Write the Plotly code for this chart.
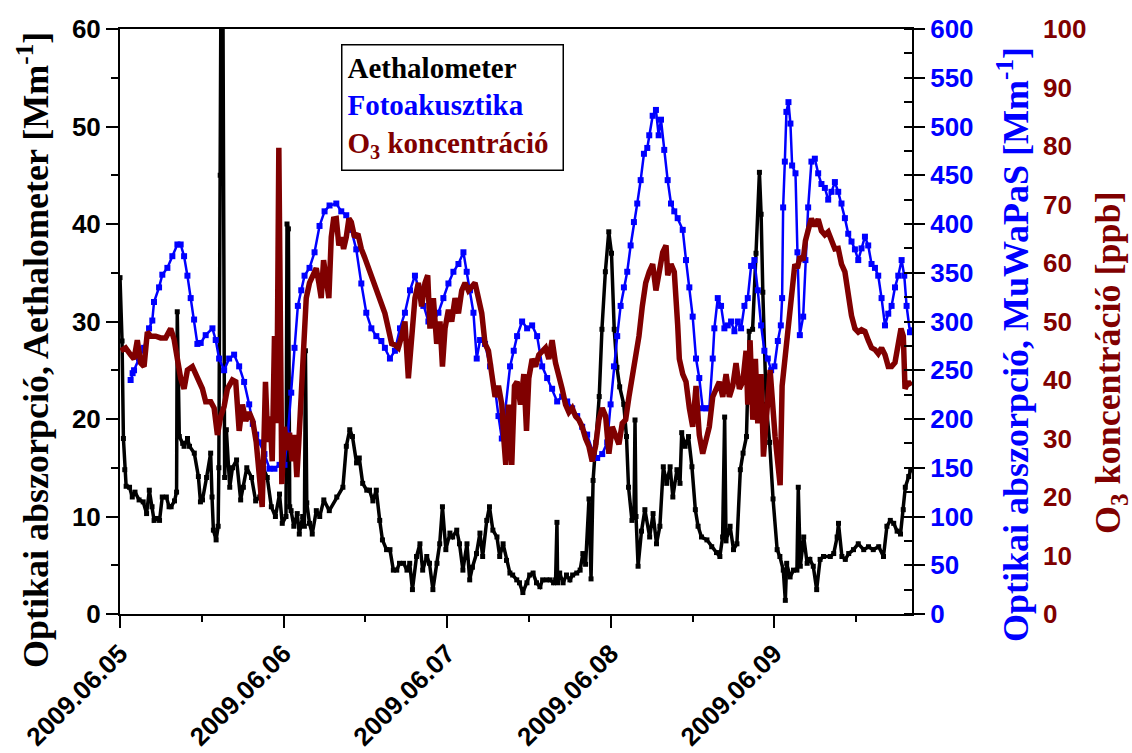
import pandas as pd
import plotly.graph_objects as go

START = "2009-06-05 00:00"
END = "2009-06-09 20:11"
DAY_LABELS = ["2009.06.05", "2009.06.06", "2009.06.07", "2009.06.08", "2009.06.09"]

# (hours since 2009-06-05 00:00, absorption Mm-1) -- Aethalometer
AETH = [
    (0.0, 34.5), (0.3, 28), (0.5, 18), (0.7, 14.8), (0.9, 13.1), (1.4, 13.0), (1.8, 12.0), (2.2, 12.5),
    (2.8, 11.7), (3.4, 11.5), (3.9, 10.3), (4.3, 12.7), (4.7, 11.0), (5.0, 9.6), (5.5, 9.8), (5.8, 9.6),
    (6.2, 12.0), (6.8, 12.0), (7.2, 11.0), (7.5, 11.0), (8.0, 11.6), (8.3, 12.5), (8.4, 31.0), (8.6, 25),
    (8.7, 18.2), (9.2, 17.5), (9.4, 17.2), (9.9, 18), (10.2, 17.2), (10.9, 16.5), (11.5, 14.1), (11.8, 11.5),
    (12.1, 11.7), (12.7, 14), (13.3, 16.5), (13.5, 12), (13.7, 8.6), (14.1, 7.6), (14.4, 9), (14.5, 15),
    (14.7, 45), (14.8, 63), (15.1, 63), (15.25, 25), (15.35, 14), (15.6, 18.9), (16.1, 13), (16.5, 15),
    (17.1, 15.8), (17.7, 11.7), (18.1, 13), (18.6, 15), (19.3, 14), (19.9, 11.6), (20.5, 12), (21.0, 15),
    (21.6, 14), (22.2, 11), (22.8, 10), (23.4, 12.3), (23.8, 9.3), (24.35, 10), (24.5, 40), (24.7, 39.5),
    (24.9, 11), (25.1, 10.6), (25.5, 9), (26.0, 10.3), (26.3, 8.2), (26.8, 10), (27.05, 9), (27.2, 27),
    (27.4, 11.4), (27.8, 9.3), (28.2, 8.2), (28.8, 10.6), (29.3, 10), (29.9, 11.7), (30.7, 10.6), (31.8, 12),
    (32.7, 13), (33.2, 17.2), (33.7, 18.9), (34.1, 18.2), (34.7, 15.5), (35.1, 16), (35.6, 13.4), (36.2, 12.7),
    (36.6, 12.7), (37.1, 11.6), (37.6, 12.7), (38.1, 9.6), (38.5, 7.6), (39.1, 6.6), (39.6, 6.6), (40.1, 4.5),
    (40.6, 4.5), (41.0, 5.2), (41.6, 5.2), (42.1, 4.5), (42.5, 5.2), (42.9, 2.5), (43.5, 5.9), (44.0, 7.2),
    (44.4, 4.5), (45.0, 5.9), (45.4, 5.2), (45.9, 2.5), (46.5, 5.2), (46.9, 7.2), (47.3, 11), (47.8, 6.6),
    (48.4, 8.3), (48.8, 7.9), (49.4, 8.6), (49.8, 7.2), (50.3, 4.5), (50.9, 7.2), (51.3, 3.5), (51.7, 4.8),
    (52.3, 6.2), (52.8, 8.3), (53.2, 5.9), (53.8, 9.6), (54.2, 11), (54.7, 8.6), (55.3, 7.9), (55.7, 5.9),
    (56.2, 7.2), (56.7, 5.5), (57.2, 4.2), (57.6, 4.0), (58.2, 3.5), (58.6, 3.2), (59.1, 2.2), (59.7, 3.2),
    (60.1, 4.0), (60.6, 4.2), (61.1, 3.2), (61.6, 2.8), (62.0, 3.5), (62.6, 3.5), (63.1, 3.5), (63.6, 3.2),
    (63.9, 3.5), (64.1, 9.4), (64.2, 3.2), (64.5, 4.2), (65.0, 3.2), (65.5, 4.0), (66.0, 3.5), (66.4, 4.0),
    (67.0, 4.2), (67.5, 4.5), (67.9, 6.2), (68.3, 5.1), (68.8, 11.8), (69.1, 3.6), (69.4, 13.7), (69.8, 17.6),
    (70.3, 22.3), (70.7, 29.2), (71.2, 35.1), (71.7, 39.2), (72.1, 37), (72.5, 29.2), (72.9, 25.3), (73.3, 23.3),
    (73.9, 21.5), (74.3, 18.2), (74.6, 13), (75.1, 9.6), (75.4, 10), (75.55, 19.9), (75.7, 10), (76.0, 4.9),
    (76.5, 8.5), (77.0, 10.7), (77.7, 7.9), (78.2, 10.3), (78.7, 7.2), (79.2, 9), (79.7, 15.1), (80.2, 13.4),
    (80.7, 15.1), (81.1, 12), (81.7, 14.8), (82.15, 13.4), (82.4, 18.6), (82.9, 17.2), (83.4, 18.2), (83.9, 15.1),
    (84.4, 10.7), (84.8, 9), (85.3, 7.9), (86.1, 7.6), (86.8, 6.9), (87.5, 6.3), (88.0, 5.9), (88.4, 7.9),
    (88.7, 20.2), (88.9, 7.5), (89.5, 9), (90.0, 6.6), (90.5, 7.2), (91.0, 14.8), (91.4, 16.5), (91.9, 18.2),
    (92.3, 29), (92.8, 29.2), (93.3, 37), (93.8, 45.3), (94.05, 41), (94.3, 33), (94.8, 21.5), (95.3, 17.6),
    (95.8, 11.8), (96.4, 6.6), (96.8, 5.9), (97.3, 4.5), (97.6, 1.4), (97.8, 5.2), (98.3, 3.8), (98.8, 4.5),
    (99.3, 4.5), (99.5, 13), (99.8, 4.9), (100.3, 7.9), (100.8, 5.2), (101.2, 5.6), (101.7, 4.9), (102.2, 2.5),
    (102.7, 5.6), (103.2, 5.9), (104.2, 5.9), (104.7, 6.2), (105.2, 7.9), (105.4, 9.3), (105.9, 5.9), (106.4, 5.6),
    (106.9, 6.2), (107.6, 6.6), (108.3, 7.2), (109.1, 6.6), (109.8, 6.9), (110.5, 6.6), (111.3, 6.9), (112.0, 5.9),
    (112.5, 9), (113.0, 9.6), (113.5, 9.3), (114.0, 8.5), (114.5, 8.2), (114.9, 10.7), (115.2, 13), (115.7, 14.1),
    (116.0, 14.8),
]

# (hours, absorption Mm-1) -- MuWaPaS photoacoustic
FOTO = [
    (1.56, 240), (1.85, 247), (2.06, 250), (2.79, 262), (3.53, 273), (4.26, 293), (4.74, 301), (4.99, 320),
    (5.73, 335), (6.21, 348), (6.95, 355), (7.68, 367), (8.42, 379), (8.90, 379), (9.40, 367), (9.89, 347),
    (10.37, 324), (10.87, 302), (11.35, 277), (11.84, 278), (12.57, 286), (13.56, 293), (14.04, 281), (14.54, 262),
    (15.28, 250), (16.01, 262), (16.74, 266), (17.48, 254), (18.21, 238), (18.95, 215), (19.48, 195), (19.98, 184),
    (20.46, 176), (21.19, 164), (21.93, 149), (22.66, 149), (23.40, 153), (24.13, 153), (24.62, 184), (25.12, 227),
    (25.60, 273), (26.09, 316), (26.59, 332), (27.07, 347), (27.80, 355), (28.54, 371), (29.27, 398), (30.01, 413),
    (30.74, 419), (31.73, 421), (32.46, 413), (33.19, 409), (33.93, 394), (34.66, 374), (35.40, 339), (36.13, 309),
    (36.87, 293), (37.60, 285), (38.34, 280), (38.86, 273), (39.60, 262), (40.33, 270), (41.07, 293), (41.80, 309),
    (42.54, 332), (43.27, 347), (43.77, 335), (44.50, 316), (45.24, 300), (45.97, 300), (46.71, 309), (47.44, 324),
    (48.18, 339), (48.91, 351), (49.65, 359), (50.38, 371), (50.86, 351), (51.35, 332), (51.85, 309), (52.33, 262),
    (52.82, 281), (53.55, 277), (54.29, 254), (55.02, 231), (55.52, 203), (56.01, 180), (56.49, 207), (57.22, 254),
    (57.76, 270), (58.25, 285), (58.99, 300), (59.72, 293), (60.46, 296), (61.19, 285), (61.93, 254), (62.66, 242),
    (63.39, 231), (64.13, 218), (64.86, 223), (65.60, 218), (66.33, 211), (67.07, 203), (67.80, 192), (68.53, 184),
    (69.27, 168), (70.00, 160), (70.74, 164), (71.47, 176), (71.97, 215), (72.46, 254), (72.94, 285), (73.44, 316),
    (73.92, 335), (74.41, 351), (74.91, 378), (75.39, 402), (75.88, 421), (76.38, 445), (76.86, 472), (77.35, 478),
    (77.64, 491), (78.14, 511), (78.62, 517), (79.02, 491), (79.36, 507), (79.84, 476), (80.34, 445), (80.83, 421),
    (81.31, 413), (81.81, 406), (82.55, 394), (83.03, 363), (83.52, 335), (84.01, 305), (84.50, 262), (84.98, 242),
    (85.48, 211), (85.97, 211), (86.45, 211), (86.95, 262), (87.19, 293), (87.69, 324), (88.17, 316), (88.66, 293),
    (89.16, 296), (89.64, 300), (90.13, 290), (90.63, 300), (91.11, 293), (91.60, 316), (92.09, 324), (92.58, 357),
    (93.06, 363), (93.56, 332), (94.05, 296), (94.53, 270), (95.03, 262), (95.52, 250), (96.00, 254), (96.50, 280),
    (96.94, 296), (97.13, 324), (97.28, 417), (97.53, 464), (97.76, 515), (98.06, 525), (98.35, 503), (98.60, 460),
    (99.09, 452), (99.38, 371), (99.73, 286), (100.22, 305), (100.55, 363), (100.95, 417), (101.43, 464), (101.93, 467),
    (102.42, 452), (102.90, 441), (103.40, 437), (103.89, 425), (104.37, 433), (104.87, 443), (105.36, 433), (105.84, 421),
    (106.34, 406), (106.83, 390), (107.31, 382), (107.81, 374), (108.30, 363), (108.78, 375), (109.28, 387), (109.76, 378),
    (110.25, 359), (110.75, 355), (111.23, 347), (111.72, 324), (112.22, 296), (112.70, 308), (113.19, 316), (113.69, 335),
    (114.17, 347), (114.66, 363), (115.05, 347), (115.39, 316), (115.89, 289), (116.18, 291),
]

# (hours, ppb) -- ozone concentration
OZONE = [
    (0.1, 45), (0.34, 45.1), (0.82, 45.5), (1.56, 44.3), (2.06, 43.6), (2.54, 46.8), (3.03, 42.9), (3.53, 42.3),
    (4.01, 48.2), (4.49, 47.5), (5.23, 47.5), (5.96, 47.2), (6.70, 47.2), (7.43, 48.8), (7.93, 47), (8.42, 43.6),
    (8.90, 40.3), (9.40, 38.5), (9.89, 41.7), (10.62, 42.3), (11.35, 40.3), (12.09, 38.5), (12.57, 36.3), (13.31, 36.3),
    (13.81, 35.2), (14.29, 30.6), (14.78, 33.8), (15.28, 35.5), (15.76, 38.5), (16.49, 40), (16.98, 39.7), (17.48, 31.3),
    (17.96, 35.8), (18.45, 33), (18.95, 34.5), (19.48, 33), (19.98, 29.4), (20.46, 22.9), (20.86, 18.3), (21.34, 39.7),
    (21.68, 29.4), (22.03, 33.8), (22.33, 26.1), (22.66, 47.5), (23.00, 32.6), (23.30, 79.7), (23.55, 33.2), (23.74, 22.2),
    (24.13, 32), (24.47, 28), (24.87, 31), (25.26, 26.1), (25.60, 30.6), (25.94, 23.4), (26.23, 29.4), (26.59, 39),
    (26.92, 45.5), (27.32, 54), (27.80, 56.6), (28.29, 57.9), (28.79, 59.1), (29.17, 56.6), (29.52, 54), (29.86, 60.5),
    (30.26, 56.6), (30.64, 54), (30.99, 64.4), (31.33, 67.5), (31.73, 67.6), (32.11, 63), (32.46, 64.4), (32.80, 62.4),
    (33.19, 64.4), (33.58, 67.6), (33.93, 67), (34.41, 64.4), (34.90, 65), (35.40, 62.4), (35.88, 61), (36.37, 59.5),
    (36.87, 57.5), (37.35, 56.5), (37.84, 55), (38.34, 53), (38.86, 51.4), (39.36, 48.8), (39.85, 46.2), (40.33, 46),
    (40.83, 45.5), (41.32, 47.5), (41.80, 50), (42.30, 40.3), (42.79, 46.2), (43.27, 54), (43.77, 56.6), (44.25, 52.6),
    (44.74, 56.6), (45.14, 57.9), (45.47, 48.8), (45.97, 54), (46.46, 46.2), (46.94, 50), (47.30, 42.3), (47.68, 48.8),
    (48.18, 52), (48.66, 50), (49.15, 54), (49.65, 51.4), (50.13, 55.3), (50.62, 56.6), (51.11, 55.3), (51.60, 55.9),
    (52.08, 56.6), (52.58, 54), (53.07, 51.4), (53.55, 46.2), (54.05, 45), (54.54, 41), (55.02, 37.1), (55.52, 39),
    (56.01, 35.8), (56.26, 30.6), (56.59, 25.5), (56.99, 35.8), (57.47, 25.5), (57.87, 39), (58.25, 39.7), (58.75, 35.8),
    (59.24, 41), (59.63, 31.3), (59.97, 40.3), (60.46, 43.6), (60.96, 42.3), (61.44, 44.3), (61.93, 45), (62.42, 45.5),
    (62.91, 43.6), (63.39, 46.8), (63.89, 42.9), (64.38, 41), (64.86, 38.5), (65.36, 35.8), (65.85, 34.5), (66.33, 35.2),
    (66.83, 33.8), (67.31, 33.2), (67.80, 32), (68.30, 30), (68.78, 28.7), (69.27, 26.1), (69.77, 28.7), (70.25, 33.2),
    (70.74, 35.2), (71.24, 33.8), (71.72, 27.4), (72.21, 32), (72.71, 30.6), (73.19, 29), (73.68, 32.6), (74.18, 33.2),
    (74.66, 37.1), (75.15, 40.3), (75.65, 43.6), (76.13, 47.5), (76.62, 52.6), (77.12, 56.6), (77.64, 58.5), (78.14, 59.8),
    (78.62, 55.3), (79.11, 59.1), (79.61, 61.8), (80.10, 63), (80.35, 57.9), (80.83, 59.8), (81.31, 58.5), (81.81, 49.4),
    (82.05, 43.6), (82.55, 41), (83.03, 39.7), (83.52, 35.2), (84.01, 32), (84.50, 39), (84.98, 30.6), (85.48, 27.4),
    (85.97, 29.4), (86.45, 32), (86.95, 37.1), (87.44, 38.5), (87.92, 39.7), (88.42, 37.1), (88.91, 41), (89.39, 37.1),
    (89.89, 39), (90.37, 42.9), (90.86, 38.5), (91.36, 39.7), (91.84, 45), (92.09, 35.8), (92.43, 46.8), (92.83, 33.2),
    (93.21, 43.6), (93.56, 32.6), (94.05, 41), (94.39, 26.9), (94.89, 34.9), (95.37, 41.7), (96.10, 30.3), (96.55, 26.1),
    (96.84, 22), (97.13, 39), (97.53, 43.6), (98.01, 47.5), (98.50, 55.3), (99.00, 59.8), (99.38, 59.1), (99.73, 61.1),
    (100.22, 60.5), (100.55, 63.8), (100.95, 65.6), (101.43, 67.6), (101.93, 66.3), (102.42, 67.5), (102.90, 65.5), (103.40, 64.8),
    (103.89, 65.3), (104.37, 63.8), (104.87, 62.4), (105.36, 62.5), (105.84, 59.8), (106.34, 58.5), (106.83, 54.5), (107.31, 51),
    (107.81, 48.8), (108.30, 48.2), (108.78, 48.6), (109.28, 48.3), (109.76, 46.8), (110.25, 45.5), (110.75, 45.2), (111.23, 44.5),
    (111.72, 45.5), (112.22, 44.3), (112.70, 42.3), (113.19, 42.3), (113.69, 43), (114.17, 46.8), (114.57, 48.8), (114.91, 47.5),
    (115.16, 38.5), (115.64, 39.7), (116.04, 39),
]

BLACK = "#000000"
BLUE = "#0000FF"
DARKRED = "#800000"
SANS = "Liberation Sans"
SERIF = "Liberation Serif"

base = pd.Timestamp(START)


def to_xy(pairs):
    hrs = [p[0] for p in pairs]
    vals = [p[1] for p in pairs]
    return base + pd.to_timedelta(hrs, unit="h"), vals


ax, ay = to_xy(AETH)
fx, fy = to_xy(FOTO)
ox, oy = to_xy(OZONE)

fig = go.Figure()
fig.add_trace(go.Scatter(x=ox, y=oy, yaxis="y3", mode="lines",
                         line=dict(color=DARKRED, width=5.5), name="O3"))
fig.add_trace(go.Scatter(x=fx, y=fy, yaxis="y2", mode="lines+markers",
                         line=dict(color=BLUE, width=2.5),
                         marker=dict(symbol="square", size=6, color=BLUE), name="Foto"))
fig.add_trace(go.Scatter(x=ax, y=ay, yaxis="y", mode="lines+markers",
                         line=dict(color=BLACK, width=3.5),
                         marker=dict(symbol="square", size=5, color=BLACK), name="Aeth"))

W, H = 1132, 753
ML, MR, MT, MB = 120, 20, 29, 139
PW = W - ML - MR
PH = H - MT - MB
plot_right_px = 912


def px_x(px):
    return (px - ML) / PW


def px_y(py):
    return (H - MB - py) / PH


day_ticks = [base + pd.Timedelta(days=i) for i in range(len(DAY_LABELS))]
half_ticks = [base + pd.Timedelta(hours=12 + 24 * i) for i in range(len(DAY_LABELS))]

tickfont = dict(family=SANS, size=26, weight="bold")

fig.update_layout(
    width=W, height=H,
    margin=dict(l=ML, r=MR, t=MT, b=MB, autoexpand=False),
    paper_bgcolor="white", plot_bgcolor="white",
    showlegend=False,
    xaxis=dict(
        type="date", domain=[0, px_x(plot_right_px)], automargin=False,
        range=[START, END],
        tickvals=day_ticks, ticktext=DAY_LABELS, tickangle=-45,
        ticks="outside", ticklen=12, tickwidth=2, tickcolor=BLACK,
        minor=dict(tickvals=half_ticks, ticks="outside", ticklen=6, tickwidth=2, tickcolor=BLACK),
        showline=True, linecolor=BLACK, linewidth=2, mirror=True,
        showgrid=False, zeroline=False,
        tickfont=dict(color=BLACK, **tickfont),
    ),
    yaxis=dict(
        range=[0, 60], tickvals=[0, 10, 20, 30, 40, 50, 60], automargin=False,
        ticks="outside", ticklen=12, tickwidth=2, tickcolor=BLACK,
        minor=dict(dtick=5, ticks="outside", ticklen=7, tickwidth=2, tickcolor=BLACK),
        showline=True, linecolor=BLACK, linewidth=2,
        showgrid=False, zeroline=False,
        tickfont=dict(color=BLACK, **tickfont),
    ),
    yaxis2=dict(
        overlaying="y", side="right", anchor="x", automargin=False,
        range=[0, 600], dtick=50,
        ticks="outside", ticklen=11, tickwidth=2, tickcolor=BLACK,
        minor=dict(dtick=25, ticks="inside", ticklen=8, tickwidth=2, tickcolor=BLACK),
        showline=True, linecolor=BLACK, linewidth=2,
        showgrid=False, zeroline=False,
        tickfont=dict(color=BLUE, **tickfont),
    ),
    yaxis3=dict(
        overlaying="y", side="right", anchor="free", position=px_x(1042), automargin=False,
        range=[0, 100], dtick=10, ticks="",
        showline=False, showgrid=False, zeroline=False,
        tickfont=dict(color=DARKRED, **tickfont),
    ),
)

title_font = dict(family=SERIF, size=36, weight="bold")
fig.add_annotation(xref="paper", yref="paper", x=px_x(33), y=px_y(350),
                   text="Optikai abszorpció, Aethalometer [Mm<sup>-1</sup>]",
                   textangle=-90, showarrow=False, xanchor="center", yanchor="middle",
                   font=dict(color=BLACK, **title_font))
fig.add_annotation(xref="paper", yref="paper", x=px_x(1013), y=px_y(345),
                   text="Optikai abszorpció, MuWaPaS [Mm<sup>-1</sup>]",
                   textangle=-90, showarrow=False, xanchor="center", yanchor="middle",
                   font=dict(color=BLUE, **title_font))
fig.add_annotation(xref="paper", yref="paper", x=px_x(1110), y=px_y(363),
                   text="O<sub>3</sub> koncentráció [ppb]",
                   textangle=-90, showarrow=False, xanchor="center", yanchor="middle",
                   font=dict(color=DARKRED, **title_font))

legend_text = (f'<span style="color:{BLACK}">Aethalometer</span><br>'
               f'<span style="color:{BLUE}">Fotoakusztika</span><br>'
               f'<span style="color:{DARKRED}">O<sub>3</sub> koncentráció</span>')
fig.add_annotation(xref="paper", yref="paper", x=px_x(452), y=px_y(108),
                   text=legend_text, showarrow=False, align="left",
                   xanchor="center", yanchor="middle",
                   width=210, height=114, borderpad=5,
                   bordercolor=BLACK, borderwidth=1.5, bgcolor="white",
                   font=dict(family=SERIF, size=29, weight="bold", color=BLACK))

fig.write_html("out.html")
